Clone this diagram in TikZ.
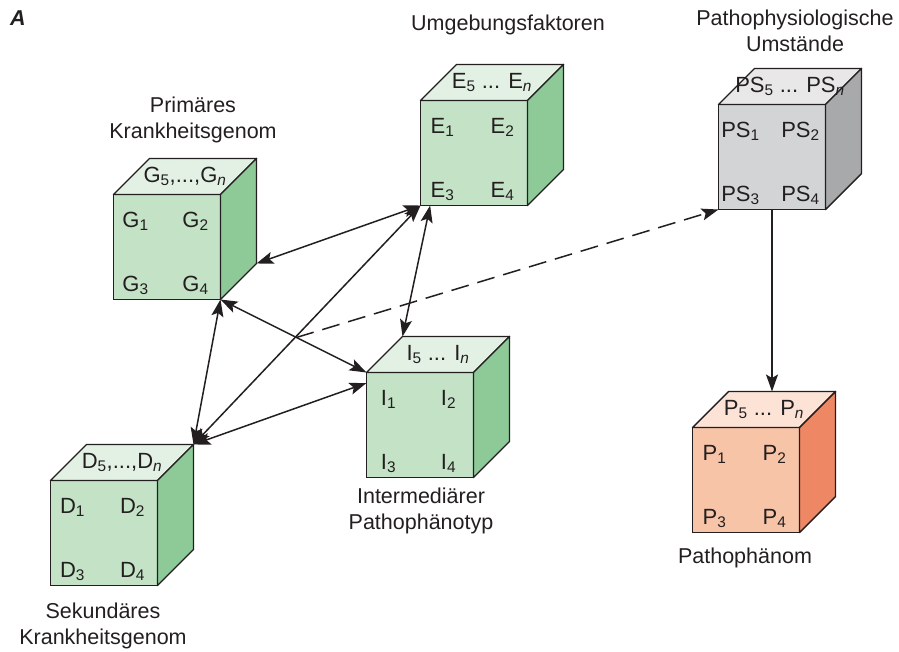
\documentclass[tikz,border=0pt]{standalone}
\usepackage{fontspec}
\setmainfont{Liberation Sans}
\usetikzlibrary{arrows.meta,calc}
\definecolor{ink}{HTML}{231F20}
\definecolor{greenfront}{HTML}{C3E2C6}
\definecolor{greentop}{HTML}{E3F1E4}
\definecolor{greenside}{HTML}{8EC998}
\definecolor{greyfront}{HTML}{D3D4D6}
\definecolor{greytop}{HTML}{E8E8E9}
\definecolor{greyside}{HTML}{A8A9AB}
\definecolor{orangefront}{HTML}{F7C4A8}
\definecolor{orangetop}{HTML}{FCE3D6}
\definecolor{orangeside}{HTML}{EE8763}
\tikzset{
face/.style={draw=ink,line width=1.4pt,minimum width=107pt,minimum height=105pt,inner sep=0pt,outer sep=0pt},
edge/.style={draw=ink,line width=1.4pt,line join=round},
cubetext/.style={font=\fontsize{22}{26}\selectfont,text=ink,inner sep=0pt},
note/.style={font=\fontsize{21.5}{26}\selectfont,align=center,text=ink,inner sep=0pt},
arr/.style={>={Stealth[length=17pt,width=12pt,inset=3.5pt]},line width=1.5pt,draw=ink}}
% cube: name, front centre, colour, letter, separator of the top label
\newcommand{\cube}[5]{%
  \node[face,fill=#3front] (#1) at (#2) {};
  \coordinate (#1-tl) at ($(#1.north west)+(36,-36)$);
  \coordinate (#1-tr) at ($(#1.north east)+(36,-36)$);
  \coordinate (#1-br) at ($(#1.south east)+(36,-36)$);
  \draw[edge,fill=#3top] (#1.north west)--(#1-tl)--(#1-tr)--(#1.north east)--cycle;
  \draw[edge,fill=#3side] (#1.north east)--(#1-tr)--(#1-br)--(#1.south east)--cycle;
  \node[cubetext] (#1-top) at ($(#1.north)+(18,-18)$) {#4\textsubscript{5}#5#4\textsubscript{\textit{n}}};
  \node[cubetext] (#1-1) at ($(#1.north west)+(22,27)$) {#4\textsubscript{1}};
  \node[cubetext] (#1-2) at ($(#1.north west)+(82,27)$) {#4\textsubscript{2}};
  \node[cubetext] (#1-3) at ($(#1.south west)+(22,-14)$) {#4\textsubscript{3}};
  \node[cubetext] (#1-4) at ($(#1.south west)+(82,-14)$) {#4\textsubscript{4}};}

\begin{document}
\begin{tikzpicture}[x=1pt,y=-1pt]
\useasboundingbox (0,0) rectangle (899,652);
\node[note,font=\fontsize{21.5}{26}\selectfont\bfseries\itshape] (tag) at (18,18) {A};
\cube{genom}{167,247}{green}{G}{,...,}
\cube{umwelt}{474,153}{green}{E}{ ... }
\cube{phys}{772,157}{grey}{PS}{ ... }
\cube{inter}{420,425}{green}{I}{ ... }
\cube{sekund}{104,533}{green}{D}{,...,}
\cube{phaenom}{746,480}{orange}{P}{ ... }
\node[note] (genomlab) at (193,120) {Primäres\\Krankheitsgenom};
\node[note] (umweltlab) at (508,25) {Umgebungsfaktoren};
\node[note] (physlab) at (795,31) {Pathophysiologische\\Umstände};
\node[note] (interlab) at (421,511) {Intermediärer\\Pathophänotyp};
\node[note] (sekundlab) at (103,626) {Sekundäres\\Krankheitsgenom};
\node[note] (phaenomlab) at (745,558) {Pathophänom};
\coordinate (ientry) at ($(inter.north west)!0.1!(inter.south west)$);
\coordinate (eexit) at ($(umwelt.south west)!0.09!(umwelt.south east)$);
\coordinate (dstart) at ($(genom.south east)!0.52!(inter.north west)$);
\draw[arr,<->] (genom-br)--(umwelt.south west);
\draw[arr,<->] (genom.south east)--(inter.north west);
\draw[arr,<->] (genom.south east)--(sekund-tr);
\draw[arr,<->] (umwelt.south west)--(sekund-tr);
\draw[arr,<->] (ientry)--(sekund-tr);
\draw[arr,<->] (eexit)--(inter-tl);
\draw[arr,->,dash pattern=on 18pt off 9pt] (dstart)--(phys.south west);
\draw[arr,->] (phys.south)--(phys.south |- phaenom-tl);
\end{tikzpicture}
\end{document}
